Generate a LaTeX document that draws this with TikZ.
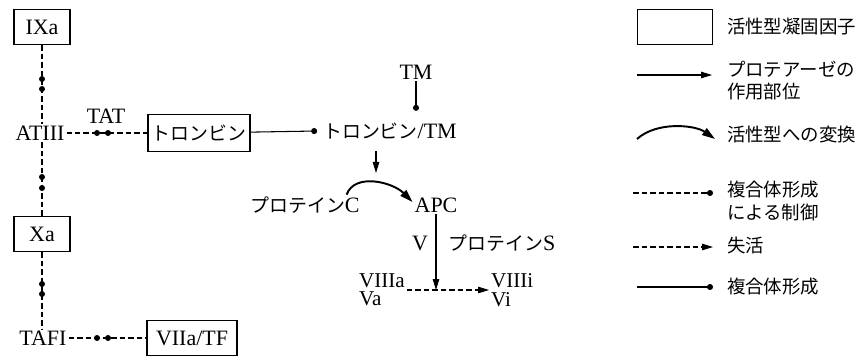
\documentclass[tikz,border=0pt]{standalone}
\usepackage{fontspec}
\setmainfont{Liberation Serif}
\newfontfamily\jp{Noto Sans CJK JP}[Scale=0.86]
\usetikzlibrary{arrows.meta}

\begin{document}
\begin{tikzpicture}[
  x=0.02cm, y=0.02cm,
  font=\fontsize{12.5}{13.5}\selectfont,
  every node/.style={align=left},
  factor/.style={draw, line width=0.7pt, minimum height=0.7cm, inner sep=2pt},
  txt/.style={inner sep=1pt},
  jtxt/.style={inner sep=1pt, font=\fontsize{12.2}{12.6}\selectfont\jp},
  dot/.style={circle, fill, inner sep=0pt, minimum size=1.2mm},
  ctrl/.style={line width=0.6pt, dash pattern=on 1.1mm off 0.6mm},
  ctrldot/.style={ctrl, -{Circle[length=1.2mm]}},
  cplx/.style={line width=0.6pt, -{Circle[length=1.2mm]}},
  prot/.style={line width=0.6pt, -{Triangle[length=2.2mm,width=1.3mm]}},
  conv/.style={line width=1.1pt, -{Triangle[length=2.6mm,width=1.6mm]}},
  inact/.style={ctrl, -{Triangle[length=2.2mm,width=1.3mm]}}]

\useasboundingbox (0,0) rectangle (857,358);

% Inhibitor column on the left
\node[factor, minimum width=1.12cm] (factorIXa) at (42,331) {IXa};
\node[txt] (antithrombin) at (40,225) {ATIII};
\node[factor, minimum width=1.12cm] (factorXa) at (42,124) {Xa};
\node[txt] (tafi) at (43,20) {TAFI};
\node[txt] (tat) at (106,242) {TAT};
\node[factor, minimum width=2.04cm, minimum height=0.74cm, font=\fontsize{12.5}{13.5}\selectfont\jp] (thrombin) at (199,225) {トロンビン};
\node[factor, minimum width=1.8cm] (factorVIIa) at (192,20) {VIIa/TF};

\draw[ctrl] (factorIXa) -- (factorIXa |- antithrombin.north);
\draw[ctrl] (factorXa |- antithrombin.south) -- (factorXa);
\draw[ctrl] (factorXa) -- (factorXa |- tafi.north);
\draw[ctrl] (antithrombin) -- (thrombin);
\draw[ctrl] (tafi) -- (factorVIIa);

% complexes sitting on the dashed lines
\foreach \y in {279,269,181,170,74,64}
  \node[dot] (col\y) at (42,\y) {};
\foreach \x in {97,108} {
  \node[dot] (tat\x) at (\x,225) {};
  \node[dot] (tafi\x) at (\x,20) {};
}

% Thrombomodulin pathway
\node[txt] (thrombinTM) at (390,227) {{\jp トロンビン}/TM};
\node[txt] (tm) at (416,286) {TM};
\draw[cplx] (thrombin) -- ([xshift=-0.08cm]thrombinTM.west);
\draw[cplx] (tm) -- ([yshift=0.2cm]tm |- thrombinTM.north);

\coordinate (pcTarget) at (376,185);
\draw[prot, shorten <=2mm] (thrombinTM.south -| pcTarget) -- (pcTarget);

\node[txt] (proteinC) at (305,153) {{\jp プロテイン}C};
\node[txt] (apc) at (436,153) {APC};
\draw[conv] ([xshift=-0.3cm]proteinC.north east) .. controls +(8,22) and +(-20,20) .. ([yshift=0.06cm]apc.west);

\node[txt] (factorV) at (420,115) {V};
\node[txt] (proteinS) at (502,115) {{\jp プロテイン}S};
\node[txt, anchor=west, font=\fontsize{12}{10.5}\selectfont] (activeVIII) at (357,68) {VIIIa\\Va};
\node[txt, anchor=west, font=\fontsize{12}{10.5}\selectfont] (inactiveVIII) at (489,68) {VIIIi\\Vi};
\draw[prot] (apc) -- (apc |- activeVIII);
\draw[inact] (activeVIII) -- (inactiveVIII);

% Legend
\node[factor, minimum width=1.5cm] (legendBox) at (675,331) {};
\node[jtxt, anchor=west] (legendFactor) at (725,331) {活性型凝固因子};

\coordinate (legendProtA) at (637,283);
\coordinate (legendProtB) at (712,283);
\draw[prot] (legendProtA) -- (legendProtB);
\node[jtxt, anchor=west] (legendProt) at (725,277) {プロテアーゼの\\作用部位};

\coordinate (legendConvA) at (637,219);
\coordinate (legendConvB) at (715,219);
\draw[conv] (legendConvA) .. controls +(20,18) and +(-20,14) .. (legendConvB);
\node[jtxt, anchor=west] (legendConv) at (725,223) {活性型への変換};

\coordinate (legendCtrlA) at (633,165);
\coordinate (legendCtrlB) at (713,165);
\draw[ctrldot] (legendCtrlA) -- (legendCtrlB);
\node[jtxt, anchor=west] (legendCtrl) at (725,157) {複合体形成\\による制御};

\coordinate (legendInactA) at (633,111);
\coordinate (legendInactB) at (713,111);
\draw[inact] (legendInactA) -- (legendInactB);
\node[jtxt, anchor=west] (legendInact) at (725,112) {失活};

\coordinate (legendCplxA) at (637,71);
\coordinate (legendCplxB) at (713,71);
\draw[cplx] (legendCplxA) -- (legendCplxB);
\node[jtxt, anchor=west] (legendCplx) at (725,71) {複合体形成};
\end{tikzpicture}
\end{document}
